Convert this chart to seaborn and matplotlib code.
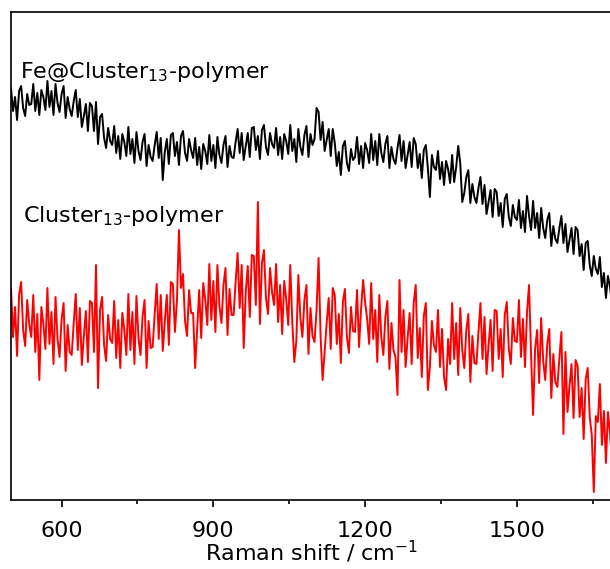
import numpy as np
import pandas as pd
import matplotlib
matplotlib.use("Agg")
import matplotlib.pyplot as plt
from matplotlib.ticker import MultipleLocator
import seaborn as sns

# Raman shift grid (cm-1), 4 cm-1 steps, 500 ... 1688
shift = np.arange(500, 1689, 4)

# intensities (arbitrary units), one row = 40 cm-1
fe_cluster = [
    412, 389, 403, 380, 409, 414, 392, 384, 406, 395,
    396, 416, 389, 407, 385, 410, 403, 390, 419, 393,
    409, 385, 416, 397, 388, 406, 414, 382, 403, 391,
    384, 399, 410, 383, 401, 373, 384, 396, 369, 397,
    394, 369, 398, 356, 383, 386, 362, 352, 372, 359,
    355, 374, 347, 364, 341, 366, 358, 344, 373, 346,
    361, 337, 368, 349, 340, 358, 366, 334, 355, 343,
    339, 355, 368, 342, 362, 320, 348, 361, 336, 365,
    367, 344, 358, 335, 364, 369, 347, 339, 361, 350,
    342, 362, 335, 353, 331, 356, 349, 336, 365, 339,
    355, 332, 363, 345, 337, 355, 364, 333, 354, 343,
    342, 358, 371, 347, 367, 340, 354, 367, 343, 372,
    373, 350, 364, 341, 370, 375, 353, 345, 367, 356,
    352, 372, 345, 363, 341, 366, 359, 346, 375, 349,
    361, 338, 371, 353, 345, 365, 374, 343, 366, 355,
    361, 392, 388, 360, 378, 349, 360, 371, 344, 371,
    357, 334, 348, 325, 354, 359, 337, 329, 351, 340,
    343, 363, 336, 354, 332, 357, 350, 337, 366, 340,
    359, 335, 366, 347, 338, 356, 364, 332, 353, 341,
    336, 352, 365, 339, 359, 332, 345, 358, 333, 362,
    356, 332, 346, 322, 350, 355, 332, 303, 345, 333,
    330, 349, 321, 338, 315, 339, 331, 317, 345, 318,
    333, 354, 337, 298, 307, 323, 330, 297, 316, 303,
    297, 312, 323, 296, 315, 286, 298, 310, 283, 311,
    308, 284, 297, 273, 301, 306, 283, 274, 295, 283,
    280, 300, 272, 289, 268, 304, 284, 270, 299, 272,
    287, 262, 292, 272, 262, 280, 287, 254, 274, 261,
    257, 272, 284, 257, 276, 248, 260, 272, 246, 273,
    270, 244, 256, 230, 257, 259, 235, 224, 244, 231,
    226, 243, 213, 227, 202, 224, 213, 197,
]

cluster = [
    212, 163, 193, 144, 205, 218, 170, 154, 200, 176,
    163, 205, 148, 186, 120, 193, 176, 151, 212, 156,
    188, 136, 203, 161, 143, 181, 197, 129, 175, 148,
    145, 177, 206, 150, 192, 135, 164, 189, 138, 199,
    197, 148, 235, 112, 190, 203, 155, 139, 185, 161,
    157, 199, 142, 180, 132, 187, 170, 145, 206, 150,
    188, 136, 204, 162, 145, 183, 200, 132, 179, 152,
    153, 186, 216, 161, 205, 149, 179, 205, 155, 218,
    216, 168, 199, 270, 212, 226, 179, 164, 210, 187,
    187, 132, 172, 210, 162, 217, 200, 175, 236, 180,
    219, 168, 235, 194, 177, 215, 232, 165, 211, 185,
    185, 218, 247, 192, 235, 152, 208, 234, 183, 245,
    244, 195, 298, 176, 237, 250, 202, 186, 232, 208,
    195, 236, 178, 215, 166, 219, 201, 175, 235, 178,
    138, 159, 225, 182, 163, 200, 215, 146, 192, 164,
    158, 190, 242, 163, 120, 148, 177, 202, 151, 212,
    205, 156, 186, 137, 198, 211, 163, 147, 193, 169,
    168, 210, 153, 191, 220, 198, 181, 156, 217, 161,
    190, 138, 205, 163, 145, 183, 199, 131, 177, 150,
    143, 105, 220, 148, 190, 133, 162, 187, 136, 197,
    215, 142, 172, 123, 184, 197, 110, 133, 179, 155,
    148, 190, 133, 171, 123, 110, 161, 136, 197, 141,
    177, 125, 192, 150, 132, 170, 186, 118, 164, 137,
    136, 168, 197, 141, 183, 126, 155, 180, 129, 190,
    189, 141, 171, 123, 185, 198, 151, 136, 182, 159,
    158, 200, 143, 181, 133, 188, 215, 146, 85, 151,
    170, 117, 182, 139, 120, 156, 171, 102, 146, 118,
    113, 142, 168, 66, 148, 88, 114, 136, 82, 140,
    134, 83, 112, 61, 121, 132, 83, 65, 8, 84,
    78, 116, 55, 89, 37, 88, 67, 38,
]

sns.set_style("ticks")
plt.rcParams['font.family'] = ['DejaVu Sans']
plt.rcParams['mathtext.default'] = 'regular'
plt.rcParams['text.color'] = 'black'
plt.rcParams['axes.labelcolor'] = 'black'
plt.rcParams['xtick.color'] = 'black'

df = pd.DataFrame({"shift": shift, "fe": fe_cluster, "cl": cluster})

fig = plt.figure(figsize=(6.10, 5.69), dpi=100)
ax = fig.add_axes([11 / 610, 69 / 569, 601 / 610, 488 / 569])

sns.lineplot(data=df, x="shift", y="fe", ax=ax, color="black", lw=1.4)
sns.lineplot(data=df, x="shift", y="cl", ax=ax, color="red", lw=1.4)

ax.set_xlim(500, 1688)
ax.set_ylim(0, 488)
ax.set_yticks([])
ax.set_ylabel("")
ax.xaxis.set_major_locator(MultipleLocator(300))
ax.xaxis.set_minor_locator(MultipleLocator(150))
ax.tick_params(axis='x', which='major', direction='out', length=5, width=1.2,
               labelsize=16, pad=10, colors='black')
ax.tick_params(axis='x', which='minor', direction='out', length=3, width=1.2)
for s in ax.spines.values():
    s.set_linewidth(1.2)
    s.set_color('black')

ax.set_xlabel("Raman shift / cm$^{-1}$", fontsize=16, va='top')
ax.xaxis.set_label_coords(0.5, -0.08)

ax.text(517, 422, "Fe@Cluster$_{13}$-polymer", fontsize=16, va='baseline')
ax.text(523, 278, "Cluster$_{13}$-polymer", fontsize=16, va='baseline')

fig.savefig("out.png", dpi=100)
